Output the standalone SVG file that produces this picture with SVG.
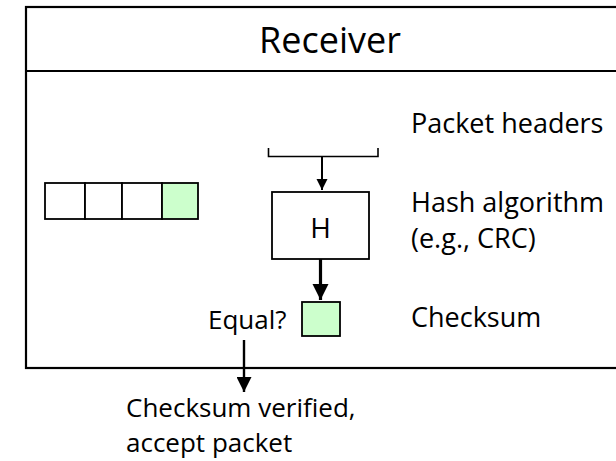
<svg xmlns="http://www.w3.org/2000/svg" width="616" height="461" viewBox="0 0 616 461">
  <style>
    .lbl { font-family: "Open Sans", "Noto Sans", sans-serif; font-size: 26px; fill: #000; }
    .side { font-size: 27px; }
    .title { font-size: 36px; }
    .big { font-size: 28px; }
    .frame { fill: #fff; stroke: #000; stroke-width: 2.2; }
    .cell { fill: #fff; stroke: #000; stroke-width: 1.8; }
    .sum { fill: #ccffcc; stroke: #000; stroke-width: 1.8; }
    .wire { fill: none; stroke: #000; }
  </style>
  <defs>
    <marker id="headS" markerUnits="userSpaceOnUse" viewBox="0 0 10 10" refX="10" refY="5" markerWidth="11" markerHeight="12" orient="auto">
      <path d="M0,0 L10,5 L0,10 Z" fill="#000"/>
    </marker>
    <marker id="headL" markerUnits="userSpaceOnUse" viewBox="0 0 10 10" refX="10" refY="5" markerWidth="16" markerHeight="17" orient="auto">
      <path d="M0,0 L10,5 L0,10 Z" fill="#000"/>
    </marker>
    <marker id="headM" markerUnits="userSpaceOnUse" viewBox="0 0 10 10" refX="10" refY="5" markerWidth="15" markerHeight="15" orient="auto">
      <path d="M0,0 L10,5 L0,10 Z" fill="#000"/>
    </marker>
  </defs>

  <!-- receiver frame with title bar -->
  <g id="receiver">
    <rect class="frame" x="26" y="7" width="600" height="361"/>
    <line class="wire" x1="26" y1="71" x2="616" y2="71" stroke-width="2.2"/>
    <text class="lbl title" x="330" y="53" text-anchor="middle">Receiver</text>
  </g>

  <!-- received packet: three data cells and the checksum cell -->
  <g id="packet">
    <rect class="cell" x="45" y="183" width="40" height="36"/>
    <rect class="cell" x="85" y="183" width="37" height="36"/>
    <rect class="cell" x="122" y="183" width="40" height="36"/>
    <rect class="sum" x="162" y="183" width="36" height="36"/>
  </g>

  <!-- header bracket -->
  <g id="headers">
    <path class="wire" d="M268.5,148 V156.5 H378 V148" stroke-width="1.6"/>
  </g>

  <!-- hash function -->
  <g id="hash">
    <rect class="cell" x="272" y="192" width="97" height="67"/>
    <text class="lbl big" x="320.5" y="238" text-anchor="middle">H</text>
  </g>

  <!-- recomputed checksum -->
  <g id="checksum">
    <rect class="sum" x="302" y="302" width="38" height="34"/>
    <text class="lbl" x="208" y="329">Equal?</text>
  </g>

  <!-- side labels -->
  <g id="labels">
    <text class="lbl side" x="411" y="133">Packet headers</text>
    <text class="lbl side" x="411" y="212">Hash algorithm</text>
    <text class="lbl side" x="411" y="248">(e.g., CRC)</text>
    <text class="lbl side" x="411" y="327">Checksum</text>
  </g>

  <!-- result -->
  <g id="result">
    <text class="lbl" x="126" y="417">Checksum verified,</text>
    <text class="lbl" x="126" y="452">accept packet</text>
  </g>

  <g id="connectors">
    <line class="wire" x1="322" y1="157" x2="322" y2="190" stroke-width="2" marker-end="url(#headS)"/>
    <line class="wire" x1="320.5" y1="259" x2="320.5" y2="300" stroke-width="3.2" marker-end="url(#headL)"/>
    <line class="wire" x1="244" y1="340" x2="244" y2="392" stroke-width="2.4" marker-end="url(#headM)"/>
  </g>
</svg>
